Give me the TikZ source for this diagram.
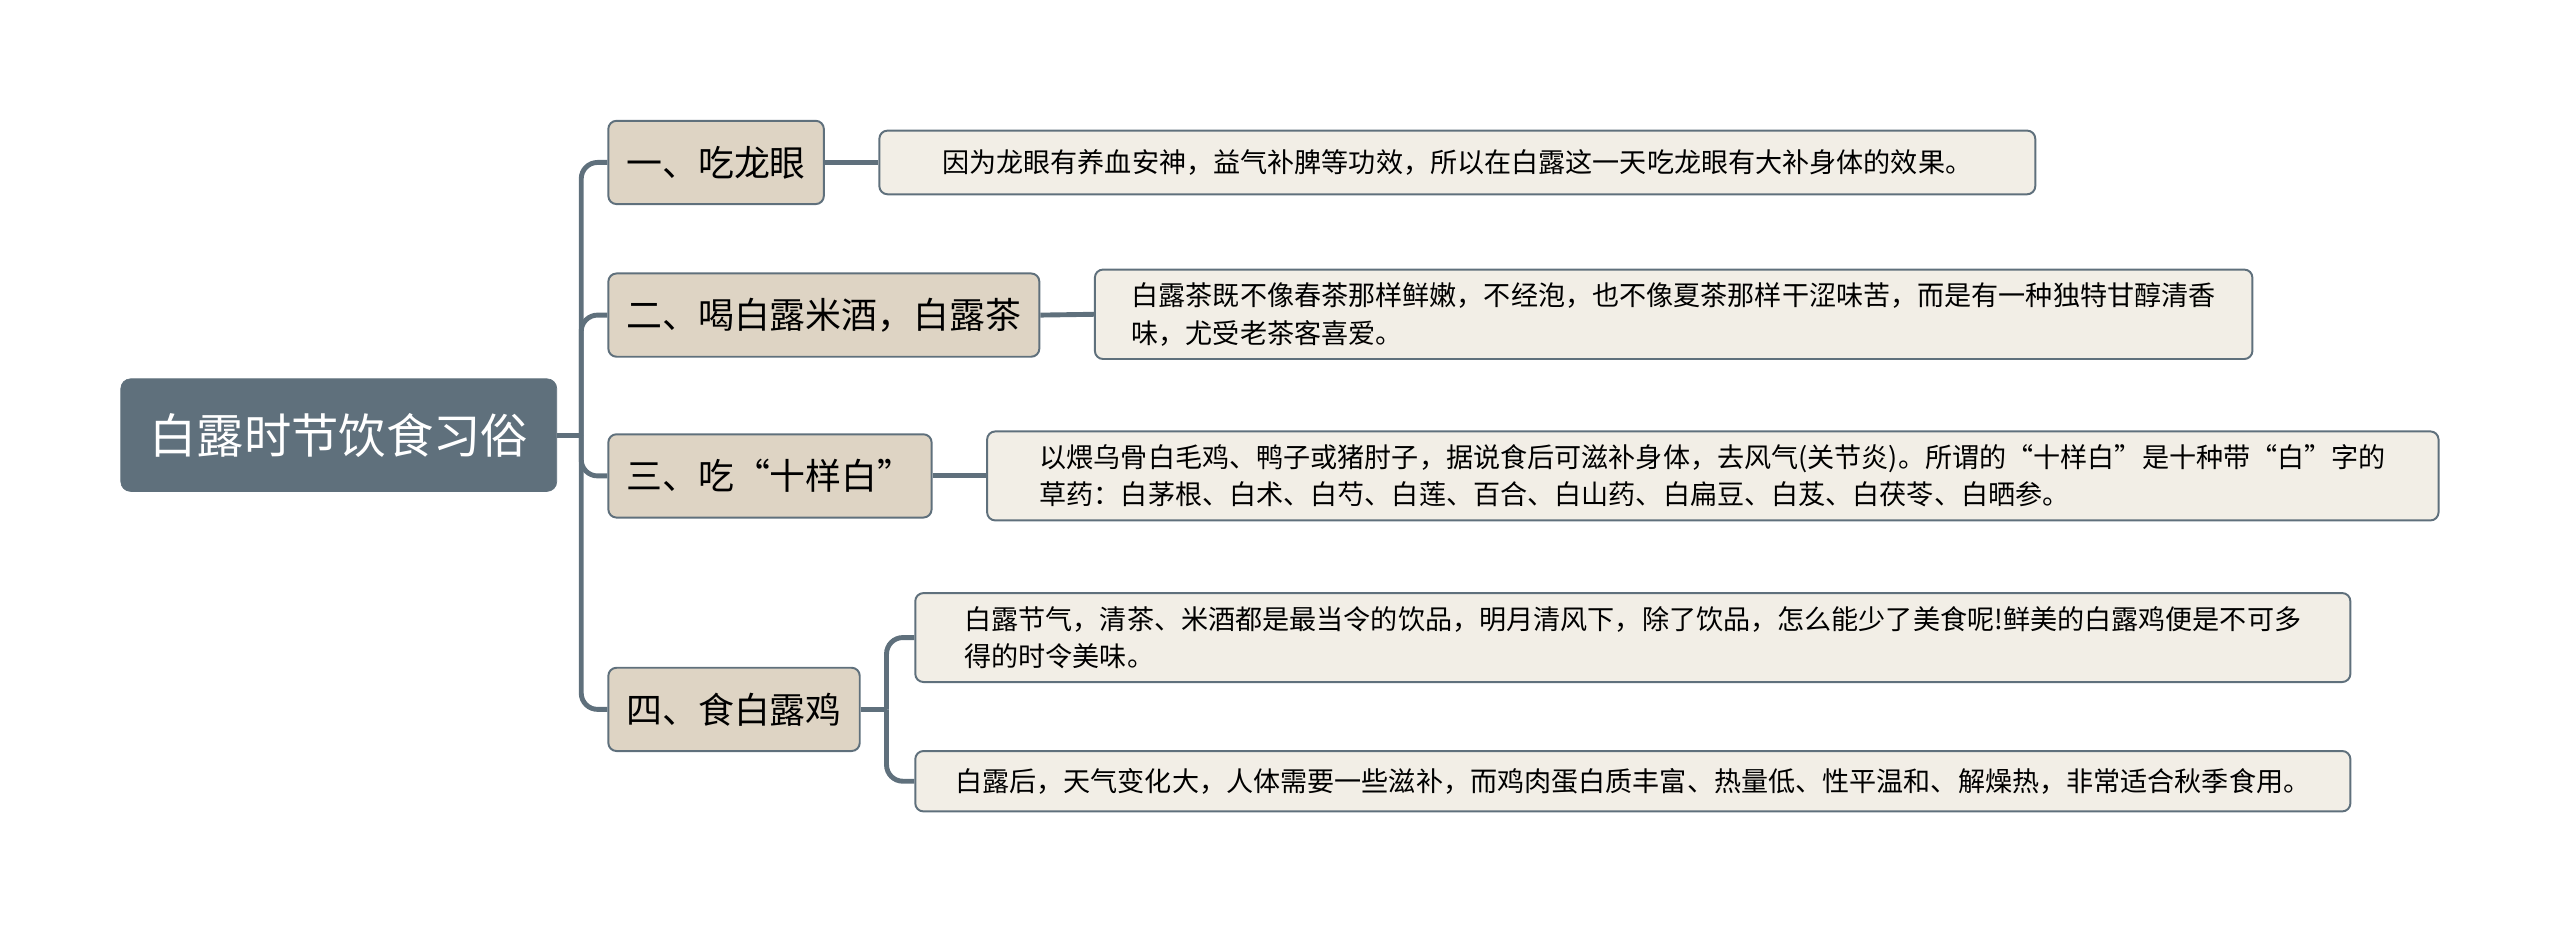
\documentclass[tikz,border=0pt]{standalone}
\usepackage{fontspec}
\setmainfont{Noto Sans CJK SC}
\definecolor{slate}{HTML}{5F707C}
\definecolor{topicfill}{HTML}{DED4C4}
\definecolor{leaffill}{HTML}{F2EEE6}
\tikzset{
  rootbox/.style={fill=slate, draw=slate, rounded corners=6pt, text=white,
    font=\fontsize{29}{34}\selectfont, minimum width=267pt, minimum height=69pt, inner sep=0pt},
  topicbox/.style={fill=topicfill, draw=slate, line width=1.2pt, rounded corners=5pt,
    font=\fontsize{22}{26}\selectfont, minimum height=51pt, anchor=west, inner xsep=11pt},
  leafbox/.style={fill=leaffill, draw=slate, line width=1.2pt, rounded corners=5pt,
    font=\fontsize{16.6}{23}\selectfont, align=left, anchor=west, inner xsep=9pt, inner ysep=8pt},
  conn/.style={draw=slate, line width=3pt, rounded corners=10pt}
}
\begin{document}
\begin{tikzpicture}[x=1pt,y=-1pt]
  \useasboundingbox (0,0) rectangle (1568,572);

  % ---- root
  \node[rootbox] (root) at (207.5,266.5) {白露时节饮食习俗};

  % ---- topics
  \node[topicbox] (t1) at (372,99.5) {一、吃龙眼};
  \node[topicbox] (t2) at (372,193) {二、喝白露米酒，白露茶};
  \node[topicbox] (t3) at (372,291.5) {三、吃“十样白”};
  \node[topicbox] (t4) at (372,434.5) {四、食白露鸡};

  % ---- leaves
  \node[leafbox, minimum width=708pt, minimum height=39pt] (l1) at (538,99.5)
    {因为龙眼有养血安神，益气补脾等功效，所以在白露这一天吃龙眼有大补身体的效果。};
  \node[leafbox, minimum width=709pt] (l2) at (670,192.5)
    {白露茶既不像春茶那样鲜嫩，不经泡，也不像夏茶那样干涩味苦，而是有一种独特甘醇清香\\味，尤受老茶客喜爱。};
  \node[leafbox, minimum width=889pt] (l3) at (604,291.5)
    {以煨乌骨白毛鸡、鸭子或猪肘子，据说食后可滋补身体，去风气(关节炎)。所谓的“十样白”是十种带“白”字的\\草药：白茅根、白术、白芍、白莲、百合、白山药、白扁豆、白芨、白茯苓、白晒参。};
  \node[leafbox, minimum width=879pt] (l4a) at (560,390.5)
    {白露节气，清茶、米酒都是最当令的饮品，明月清风下，除了饮品，怎么能少了美食呢!鲜美的白露鸡便是不可多\\得的时令美味。};
  \node[leafbox, minimum width=879pt, minimum height=37pt] (l4b) at (560,478.5)
    {白露后，天气变化大，人体需要一些滋补，而鸡肉蛋白质丰富、热量低、性平温和、解燥热，非常适合秋季食用。};

  % ---- connectors
  \coordinate (sp) at (356,266.5);
  \draw[conn] (root.east) -- (sp);
  \foreach \t in {t1,t2,t3,t4} { \draw[conn] (sp) |- (\t.west); }
  \draw[conn] (t1.east) -- (l1.west);
  \draw[conn] (t2.east) -- (l2.west);
  \draw[conn] (t3.east) -- (l3.west);
  \coordinate (sp4) at (543,434.5);
  \draw[conn] (t4.east) -- (sp4);
  \draw[conn] (sp4) |- (l4a.west);
  \draw[conn] (sp4) |- (l4b.west);
\end{tikzpicture}
\end{document}
